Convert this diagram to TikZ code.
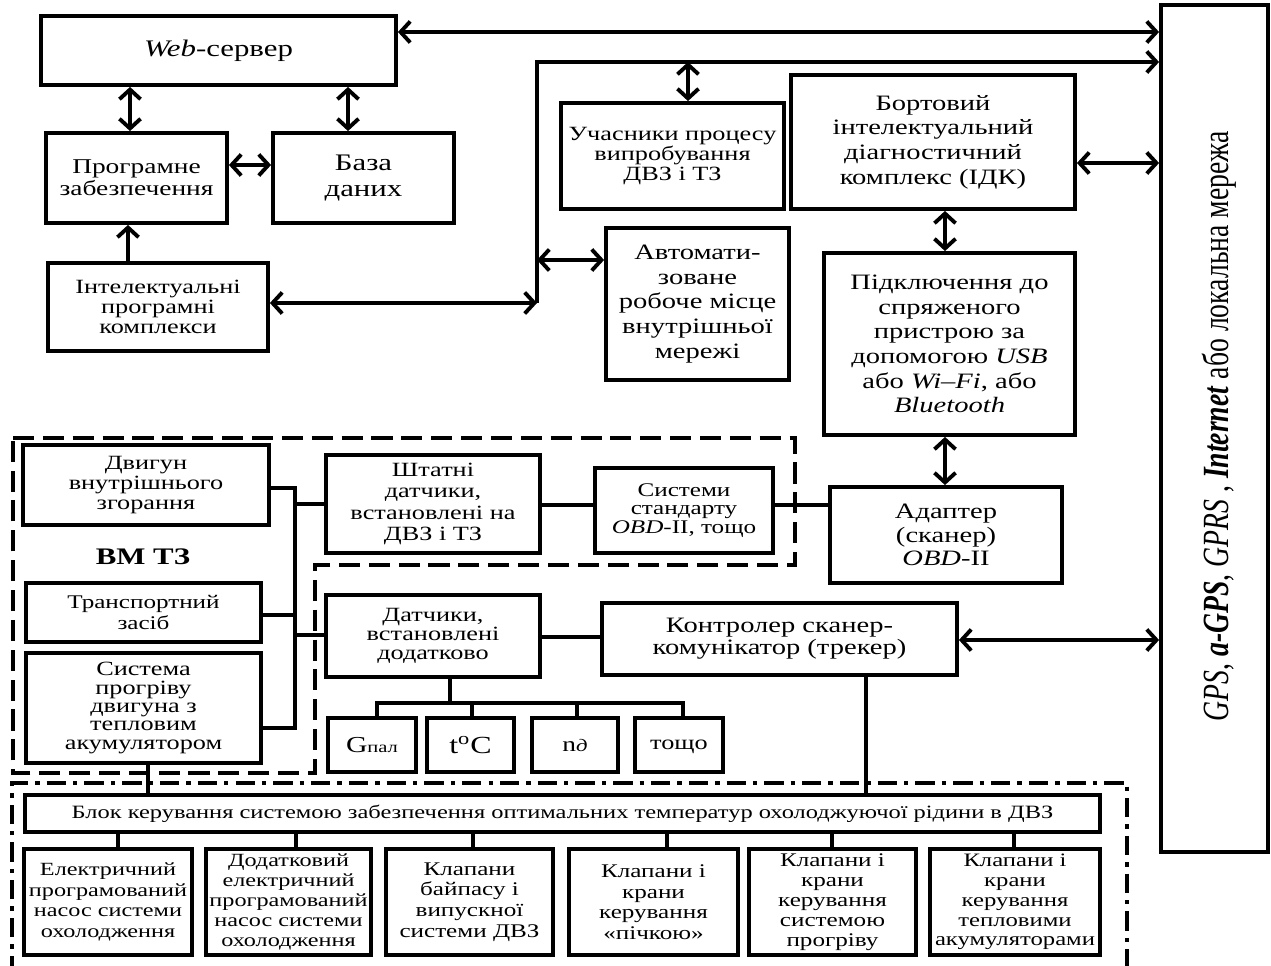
\documentclass[tikz,border=0pt]{standalone}
\usepackage{fontspec}
\setmainfont{Liberation Serif}[FakeStretch=1.3]
\newfontfamily\gpsfont{Liberation Serif}[FakeStretch=0.75]
\usetikzlibrary{
    arrows.meta
}

\newcommand\fsz[2]{\fontsize{#1}{#2}\selectfont}

\tikzset{
  blk/.style={draw, line width=2.2pt, align=center, inner sep=0pt},
  wh/.style 2 args={minimum width=#1*0.02cm, minimum height=#2*0.02cm},
  ln/.style={line width=2.2pt},
  vmframe/.style={line width=2.2pt, dash pattern=on 12pt off 5pt},
  ctlframe/.style={line width=2.2pt, dash pattern=on 11pt off 4pt on 2.5pt off 4pt}
}

\begin{document}
\begin{tikzpicture}[x=0.02cm, y=-0.02cm, >={Straight Barb[length=5.5pt,width=12pt]}]

  \useasboundingbox (0,0) rectangle (1271,966);

  % server side {{{
  \node[blk, wh={355}{69}, font=\fsz{13.5}{14}] (web) at (218.5,50.5)
    {\textit{Web}-сервер};
  \node[blk, wh={181}{90}, font=\fsz{12}{12.5}] (prog) at (136.5,178)
    {Програмне\\забезпечення};
  \node[blk, wh={181}{90}, font=\fsz{13.5}{15}] (baza) at (363.5,178)
    {База\\даних};
  \node[blk, wh={220}{88}, font=\fsz{11.5}{11.5}] (intel) at (158,307)
    {Інтелектуальні\\програмні\\комплекси};
  % }}}

  % network side {{{
  \node[blk, wh={223}{106}, font=\fsz{11.5}{11.5}] (uch) at (672.5,156)
    {Учасники процесу\\випробування\\ДВЗ і ТЗ};
  \node[blk, wh={284}{134}, font=\fsz{12.5}{14}] (bort) at (933,142)
    {Бортовий\\інтелектуальний\\діагностичний\\комплекс (ІДК)};
  \node[blk, wh={183}{152}, font=\fsz{12.5}{14}] (avto) at (697.5,304)
    {Автомати-\\зоване\\робоче місце\\внутрішньої\\мережі};
  \node[blk, wh={251}{182}, font=\fsz{12.5}{14}] (pidkl) at (949.5,344)
    {Підключення до\\спряженого\\пристрою за\\допомогою \textit{USB}\\або \textit{Wi–Fi}, або\\\textit{Bluetooth}};
  \node[blk, wh={232}{96}, font=\fsz{12.5}{13.5}] (adapt) at (946,535)
    {Адаптер\\(сканер)\\\textit{OBD}-II};
  \node[blk, wh={107}{847}] (gps) at (1214.5,428.5) {};
  \node[rotate=90, font=\gpsfont\fsz{21}{21}] (gpstxt) at (1219,426)
    {\textit{GPS}, \textbf{\textit{a-GPS}}, \textit{GPRS} , \textbf{\textit{Internet}} або локальна мережа};
  % }}}

  % vehicle (BM TZ) {{{
  \node[blk, wh={246}{80}, font=\fsz{11.5}{11.5}] (dvyg) at (146,485)
    {Двигун\\внутрішнього\\згорання};
  \node[font=\bfseries\fsz{13.5}{14}] (vmlabel) at (143,557) {ВМ ТЗ};
  \node[blk, wh={235}{59}, font=\fsz{11}{11.5}] (trans) at (143.5,612.5)
    {Транспортний\\засіб};
  \node[blk, wh={235}{110}, font=\fsz{11.5}{10.5}] (syst) at (143.5,708)
    {Система\\прогріву\\двигуна з\\тепловим\\акумулятором};
  \node[blk, wh={214}{98}, font=\fsz{11.5}{12}] (shtat) at (433,504)
    {Штатні\\датчики,\\встановлені на\\ДВЗ і ТЗ};
  \node[blk, wh={178}{85}, font=\fsz{11}{10.5}] (sist) at (684,510.5)
    {Системи\\стандарту\\\textit{OBD}-II, тощо};
  \node[blk, wh={214}{82}, font=\fsz{11.5}{11}] (datch) at (433,636)
    {Датчики,\\встановлені\\додатково};
  \node[blk, wh={355}{72}, font=\fsz{12.5}{12.5}] (kontr) at (779.5,639)
    {Контролер сканер-\\комунікатор (трекер)};
  % }}}

  % sensors {{{
  \node[blk, wh={88}{54}, font=\fsz{13}{13}] (gpal) at (372,745)
    {G{\fsz{9}{9}пал}};
  \node[blk, wh={87}{54}, font=\fsz{14}{14}] (temp) at (470.5,745)
    {t\textsuperscript{o}C};
  \node[blk, wh={86}{54}, font=\fsz{12}{12}] (nd) at (575,745)
    {n{\itshape\fsz{10}{10}д}};
  \node[blk, wh={88}{54}, font=\fsz{11.5}{12}] (tosh) at (679,745)
    {\raisebox{-2.5pt}[0pt][0pt]{тощо}};
  % }}}

  % cooling control {{{
  \node[blk, wh={1075}{37}, font=\fsz{10.7}{11}] (blok) at (562.5,813.5)
    {Блок керування системою забезпечення оптимальних температур охолоджуючої рідини в ДВЗ};
  \node[blk, wh={168}{106}, font=\fsz{10.6}{11.7}] (b1) at (108,902)
    {Електричний\\програмований\\насос системи\\охолодження};
  \node[blk, wh={165}{106}, font=\fsz{10.6}{11.3}] (b2) at (288.5,902)
    {Додатковий\\електричний\\програмований\\насос системи\\охолодження};
  \node[blk, wh={167}{106}, font=\fsz{11}{11.7}] (b3) at (469.5,902)
    {Клапани\\байпасу і\\випускної\\системи ДВЗ};
  \node[blk, wh={169}{106}, font=\fsz{11}{11.7}] (b4) at (653.5,902)
    {Клапани і\\крани\\керування\\«пічкою»};
  \node[blk, wh={167}{106}, font=\fsz{11}{11.3}] (b5) at (832.5,902)
    {Клапани і\\крани\\керування\\системою\\прогріву};
  \node[blk, wh={170}{106}, font=\fsz{10.8}{11.3}] (b6) at (1015,902)
    {Клапани і\\крани\\керування\\тепловими\\акумуляторами};
  % }}}

  % frames {{{
  \draw[vmframe] (13,438) -- (795,438) -- (795,565) -- (315,565)
    -- (315,773) -- (13,773) -- cycle;
  \draw[ctlframe] (12,975) -- (12,783) -- (1127,783) -- (1127,975);
  % }}}

  % links {{{
  \coordinate (busT) at (537,62);
  \coordinate (busB) at (537,303);
  \draw[ln, <->] (web.east |- 0,32) -- (gps.west |- 0,32);
  \draw[ln, <->] (web.south -| 130,0) -- (prog.north -| 130,0);
  \draw[ln, <->] (web.south -| 348,0) -- (baza.north -| 348,0);
  \draw[ln, <->] (prog.east |- 0,165) -- (baza.west |- 0,165);
  \draw[ln, ->] (intel.north -| 128,0) -- (prog.south -| 128,0);
  \draw[ln, <->] (intel.east |- busB) -- (busB);
  \draw[ln, ->] (busB) -- (busT) -- (gps.west |- busT);
  \draw[ln, <->] (busT -| 688,0) -- (uch.north -| 688,0);
  \draw[ln, <->] (busT |- 0,260) -- (avto.west |- 0,260);
  \draw[ln, <->] (bort.east |- 0,163) -- (gps.west |- 0,163);
  \draw[ln, <->] (bort.south -| 945,0) -- (pidkl.north -| 945,0);
  \draw[ln, <->] (pidkl.south -| 945,0) -- (adapt.north -| 945,0);
  \draw[ln, <->] (kontr.east |- 0,640) -- (gps.west |- 0,640);

  \coordinate (lbT) at (295,488);
  \coordinate (lbB) at (295,728);
  \draw[ln] (dvyg.east |- lbT) -- (lbT) -- (lbB) -- (syst.east |- lbB);
  \draw[ln] (trans.east |- 0,615) -- (lbT |- 0,615);
  \draw[ln] (lbT |- 0,504) -- (shtat.west |- 0,504);
  \draw[ln] (lbT |- 0,635) -- (datch.west |- 0,635);
  \draw[ln] (shtat.east |- 0,505) -- (sist.west |- 0,505);
  \draw[ln] (sist.east |- 0,505) -- (adapt.west |- 0,505);
  \draw[ln] (datch.east |- 0,637) -- (kontr.west |- 0,637);

  \coordinate (st) at (450,703);
  \draw[ln] (datch.south -| st) -- (st);
  \draw[ln] (gpal.north -| 377,0) -- (377,703) -- (683,703) -- (tosh.north -| 683,0);
  \draw[ln] (temp.north -| 472,0) -- (472,703);
  \draw[ln] (nd.north -| 577,0) -- (577,703);

  \draw[ln] (syst.south -| 148,0) -- (blok.north -| 148,0);
  \draw[ln] (kontr.south -| 866,0) -- (blok.north -| 866,0);
  \draw[ln] (blok.south -| 118,0) -- (b1.north -| 118,0);
  \draw[ln] (blok.south -| 296,0) -- (b2.north -| 296,0);
  \draw[ln] (blok.south -| 473,0) -- (b3.north -| 473,0);
  \draw[ln] (blok.south -| 667,0) -- (b4.north -| 667,0);
  \draw[ln] (blok.south -| 832,0) -- (b5.north -| 832,0);
  \draw[ln] (blok.south -| 1014,0) -- (b6.north -| 1014,0);
  % }}}

\end{tikzpicture}
\end{document}
